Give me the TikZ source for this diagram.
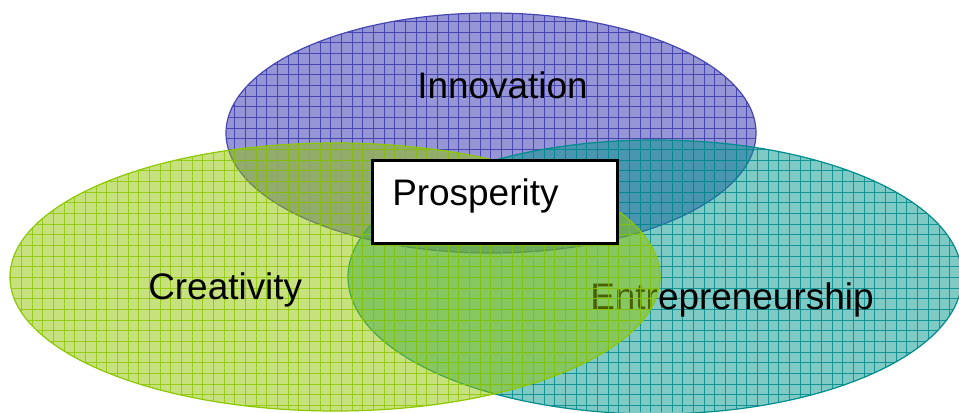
\documentclass[tikz,border=0pt]{standalone}
\usepackage{fontspec}
\setmainfont{Liberation Sans}
\definecolor{innfill}{RGB}{150,150,215}
\definecolor{innline}{RGB}{70,70,178}
\definecolor{entfill}{RGB}{0,150,140}
\definecolor{entline}{RGB}{0,140,140}
\definecolor{crefill}{RGB}{145,195,0}
\definecolor{creline}{RGB}{140,200,0}
\newcommand\mygrid[2]{%
  \foreach \k in {0,...,90}{\draw[#1, line width=0.7pt, draw opacity=#2] (\k*10.67,0) -- (\k*10.67,412);}%
  \foreach \k in {0,...,39}{\draw[#1, line width=0.7pt, draw opacity=#2] (0,\k*10.67) -- (959,\k*10.67);}%
}
\tikzset{
  word/.style={font=\fontsize{27.7}{32}\selectfont, anchor=base west, inner sep=0pt, text=black},
  rim/.style={line width=0.9pt},
  prosbox/.style={draw=black, fill=white, line width=1.9pt, minimum width=183.75pt, minimum height=62.25pt, inner sep=0pt, anchor=north west},
}
\begin{document}
\begin{tikzpicture}[x=0.75pt,y=-0.75pt]
\useasboundingbox (0,0) rectangle (959,412);
\clip (0,0) rectangle (959,412);
% Innovation
\begin{scope}
  \fill[innfill] (491,133) ellipse [x radius=265, y radius=120];
  \clip (491,133) ellipse [x radius=265, y radius=120];
  \mygrid{innline}{1}
\end{scope}
\draw[rim, innline] (491,133) ellipse [x radius=265, y radius=120];
\node[word] (inn) at (417,98.5) {Innovation};
% Entrepreneurship
\begin{scope}
  \fill[entfill, fill opacity=0.5] (655,277) ellipse [x radius=307, y radius=137];
  \clip (655,277) ellipse [x radius=307, y radius=137];
  \mygrid{entline}{0.85}
\end{scope}
\draw[rim, entline] (655,277) ellipse [x radius=307, y radius=137];
\node[word] (ent) at (590,309) {Entrepreneurship};
% Creativity
\begin{scope}
  \fill[crefill, fill opacity=0.5] (335,277) ellipse [x radius=325, y radius=134];
  \clip (335,277) ellipse [x radius=325, y radius=134];
  \mygrid{creline}{0.8}
\end{scope}
\draw[rim, creline] (335,277) ellipse [x radius=325, y radius=134];
\node[word] (cre) at (148,299) {Creativity};
% Prosperity
\node[prosbox] (box) at (371,159) {};
\node[word] (pros) at (392,205) {Prosperity};
\end{tikzpicture}
\end{document}
